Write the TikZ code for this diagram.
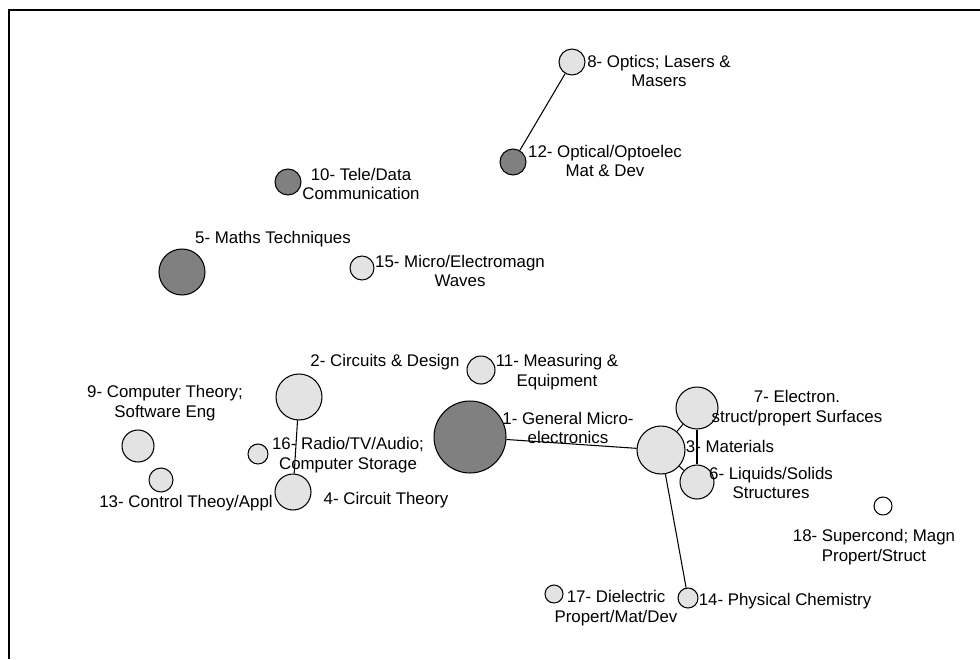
\documentclass[tikz,border=0pt]{standalone}
\usepackage{fontspec}
\setmainfont{Liberation Sans}
\usepackage{tikz}
\usetikzlibrary{positioning}

\begin{document}
\begin{tikzpicture}[x=0.02cm, y=-0.02cm,
  bub/.style={draw, circle, inner sep=0pt, line width=0.6pt, minimum size=#1*0.04cm},
  lite/.style={bub=#1, fill=gray!22},
  dark/.style={bub=#1, fill=gray},
  lbl/.style={align=center, inner sep=0pt, font=\fontsize{9.6}{11.3}\selectfont}]
\useasboundingbox (0,0) rectangle (980,659);
\draw[line width=0.8pt] (9,659) -- (9,10) -- (980,10);
% bubbles
\node[dark=36](t1) at (470,437){};
\node[lite=23](t2) at (299,397){};
\node[lite=24](t3) at (661,450){};
\node[lite=18](t4) at (293,492){};
\node[dark=23](t5) at (182,272){};
\node[lite=17](t6) at (697,482){};
\node[lite=21](t7) at (697,408){};
\node[lite=13](t8) at (572,62){};
\node[lite=16](t9) at (138,446){};
\node[dark=13](t10) at (288,182){};
\node[lite=14](t11) at (481,370){};
\node[dark=13](t12) at (513,162){};
\node[lite=12](t13) at (161,480){};
\node[lite=10](t14) at (688,598){};
\node[lite=12](t15) at (362,268){};
\node[lite=10](t16) at (258,454){};
\node[lite=9](t17) at (554,594){};
\node[bub=9, fill=white](t18) at (883,506){};
% links
\draw[line width=0.6pt] (t8) -- (t12);
\draw[line width=0.6pt] (t2) -- (t4);
\draw[line width=0.6pt] (t1) -- (t3);
\draw[line width=0.6pt] (t3) -- (t7);
\draw[line width=0.6pt] (t3) -- (t6);
\draw[line width=0.6pt] (t7) -- (t6);
\draw[line width=0.6pt] (t3) -- (t14);
% labels
\node[lbl](l1) at (568,428){1- General Micro-\\electronics};
\node[lbl](l2) at (385,362){2- Circuits \& Design};
\node[lbl](l3) at (730,446){3- Materials};
\node[lbl](l4) at (386,500){4- Circuit Theory};
\node[lbl](l5) at (273,239){5- Maths Techniques};
\node[lbl](l6) at (771,483){6- Liquids/Solids\\Structures};
\node[lbl](l7) at (797,408){7- Electron.\\struct/propert Surfaces};
\node[lbl](l8) at (659,71){8- Optics; Lasers \&\\Masers};
\node[lbl](l9) at (165,403){9- Computer Theory;\\Software Eng};
\node[lbl](l10) at (361,184){10- Tele/Data\\Communication};
\node[lbl](l11) at (557,372){11- Measuring \&\\Equipment};
\node[lbl](l12) at (605,161){12- Optical/Optoelec\\Mat \& Dev};
\node[lbl](l13) at (186,503){13- Control Theoy/Appl};
\node[lbl](l14) at (785,601){14- Physical Chemistry};
\node[lbl](l15) at (460,271){15- Micro/Electromagn\\Waves};
\node[lbl](l16) at (348,455){16- Radio/TV/Audio;\\Computer Storage};
\node[lbl](l17) at (616,608){17- Dielectric\\Propert/Mat/Dev};
\node[lbl](l18) at (874,547){18- Supercond; Magn\\Propert/Struct};
\end{tikzpicture}
\end{document}
